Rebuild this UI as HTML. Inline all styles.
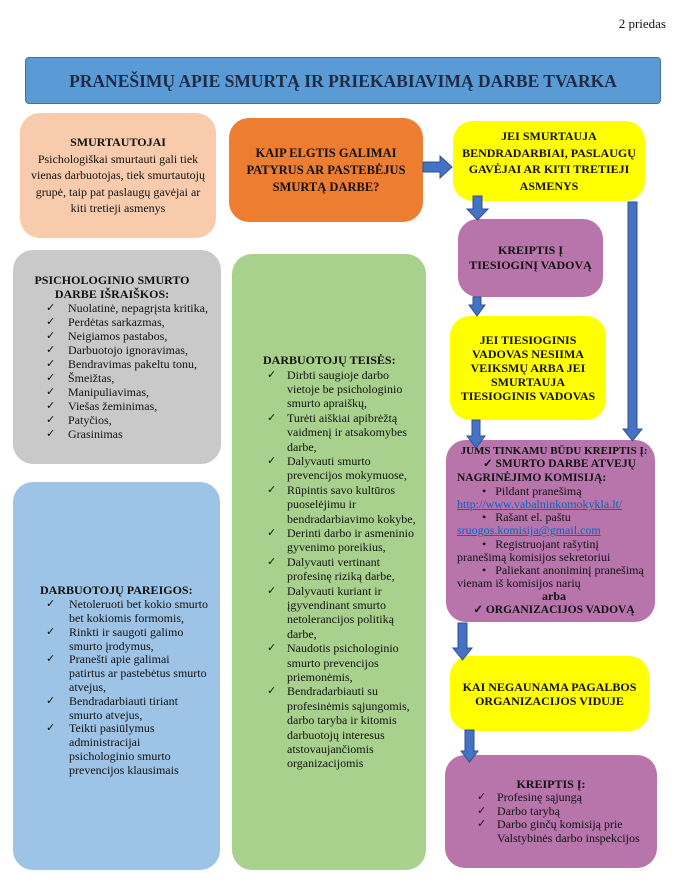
<!DOCTYPE html>
<html><head><meta charset="utf-8"><style>
body{margin:0;width:700px;height:892px;background:#fff;position:relative;font-family:"Liberation Serif",serif;color:#111;overflow:hidden}
.b{position:absolute;box-sizing:border-box;border-radius:20px;display:flex;flex-direction:column;justify-content:center;font-size:12px;line-height:14px}
.c{text-align:center;font-weight:bold}
ul{list-style:none;margin:0;padding:0}
li{position:relative;padding-left:var(--p,34px)}
li:before{content:"✓";position:absolute;left:var(--k,12px);font-size:11px}
svg{position:absolute;left:0;top:0}
a{color:#0563c1}
.nw div{white-space:nowrap}
</style></head><body>
<div style="position:absolute;right:34px;top:16px;font-size:13px">2 priedas</div>
<div class="b c" style="left:25px;top:57px;width:636px;height:47px;background:#5b9bd5;border:1.5px solid #41719c;border-radius:4px;font-size:17.5px;color:#1f2a44">PRANEŠIMŲ APIE SMURTĄ IR PRIEKABIAVIMĄ DARBE TVARKA</div>

<div class="b" style="left:20px;top:113px;width:196px;height:125px;background:#f8cbad;text-align:center;padding:0 10px;line-height:16.5px"><b>SMURTAUTOJAI</b>Psichologiškai smurtauti gali tiek vienas darbuotojas, tiek smurtautojų grupė, taip pat paslaugų gavėjai ar kiti tretieji asmenys</div>

<div class="b c" style="left:229px;top:118px;width:194px;height:104px;background:#ed7d31;font-size:12.5px;line-height:17px;padding:0 14px">KAIP ELGTIS GALIMAI PATYRUS AR PASTEBĖJUS SMURTĄ DARBE?</div>

<div class="b c" style="left:453px;top:121px;width:192px;height:80px;background:#ffff00;padding:0 6px;line-height:16.5px">JEI SMURTAUJA BENDRADARBIAI, PASLAUGŲ GAVĖJAI AR KITI TRETIEJI ASMENYS</div>

<div class="b c" style="left:458px;top:219px;width:145px;height:78px;background:#b775ab;line-height:15px">KREIPTIS Į<br>TIESIOGINĮ VADOVĄ</div>

<div class="b c" style="left:450px;top:316px;width:156px;height:104px;background:#ffff00;padding:0 8px;line-height:14px">JEI TIESIOGINIS VADOVAS NESIIMA VEIKSMŲ ARBA JEI SMURTAUJA TIESIOGINIS VADOVAS</div>

<div class="b nw" style="left:446px;top:440px;width:209px;height:182px;background:#b775ab;padding:0 4px 0 11px;font-size:12px;line-height:13.2px">
<div class="c" style="font-size:11px">JUMS TINKAMU BŪDU KREIPTIS Į:</div>
<div style="font-weight:bold;padding-left:26px;font-size:11.5px">✓ SMURTO DARBE ATVEJŲ</div>
<div style="font-weight:bold;font-size:11.5px">NAGRINĖJIMO KOMISIJĄ:</div>
<div style="padding-left:25px">•&nbsp;&nbsp; Pildant pranešimą</div>
<div><a href="#" style="text-decoration:underline">http://www.vabalninkomokykla.lt/</a></div>
<div style="padding-left:25px">•&nbsp;&nbsp; Rašant el. paštu</div>
<div><a href="#" style="text-decoration:underline">sruogos.komisija@gmail.com</a></div>
<div style="padding-left:25px">•&nbsp;&nbsp; Registruojant rašytinį</div>
<div>pranešimą komisijos sekretoriui</div>
<div style="padding-left:25px">•&nbsp;&nbsp; Paliekant anoniminį pranešimą</div>
<div>vienam iš komisijos narių</div>
<div class="c">arba</div>
<div class="c" style="font-size:11.5px">✓ ORGANIZACIJOS VADOVĄ</div>
</div>

<div class="b c" style="left:450px;top:656px;width:199px;height:75px;background:#ffff00">KAI NEGAUNAMA PAGALBOS<br>ORGANIZACIJOS VIDUJE</div>

<div class="b" style="left:445px;top:755px;width:212px;height:113px;background:#b775ab;padding-left:10px;line-height:13.5px">
<div class="c" style="padding-right:10px">KREIPTIS Į:</div>
<ul style="--p:42px;--k:22px"><li>Profesinę sąjungą</li><li>Darbo tarybą</li><li>Darbo ginčų komisiją prie</li></ul>
<div style="padding-left:42px;white-space:nowrap">Valstybinės darbo inspekcijos</div>
</div>

<div class="b" style="left:13px;top:250px;width:208px;height:214px;background:#c9c9c9">
<div class="c" style="padding-right:10px">PSICHOLOGINIO SMURTO<br>DARBE IŠRAIŠKOS:</div>
<ul style="--p:55px;--k:33px"><li>Nuolatinė, nepagrįsta kritika,</li><li>Perdėtas sarkazmas,</li><li>Neigiamos pastabos,</li><li>Darbuotojo ignoravimas,</li><li>Bendravimas pakeltu tonu,</li><li>Šmeižtas,</li><li>Manipuliavimas,</li><li>Viešas žeminimas,</li><li>Patyčios,</li><li>Grasinimas</li></ul>
</div>

<div class="b" style="left:232px;top:254px;width:194px;height:616px;background:#a9d18e;padding:0 8px 0 0;line-height:14.4px">
<div style="font-weight:bold;padding-left:31px">DARBUOTOJŲ TEISĖS:</div>
<ul style="--p:55px;--k:35px"><li>Dirbti saugioje darbo vietoje be psichologinio smurto apraiškų,</li><li>Turėti aiškiai apibrėžtą vaidmenį ir atsakomybes darbe,</li><li>Dalyvauti smurto prevencijos mokymuose,</li><li>Rūpintis savo kultūros puoselėjimu ir bendradarbiavimo kokybe,</li><li>Derinti darbo ir asmeninio gyvenimo poreikius,</li><li>Dalyvauti vertinant profesinę riziką darbe,</li><li>Dalyvauti kuriant ir įgyvendinant smurto netolerancijos politiką darbe,</li><li>Naudotis psichologinio smurto prevencijos priemonėmis,</li><li>Bendradarbiauti su profesinėmis sąjungomis, darbo taryba ir kitomis darbuotojų interesus atstovaujančiomis organizacijomis</li></ul>
</div>

<div class="b" style="left:13px;top:482px;width:207px;height:388px;background:#9dc3e6;padding:10px 12px 0 0;line-height:13.8px">
<div style="font-weight:bold;padding-left:27px">DARBUOTOJŲ PAREIGOS:</div>
<ul style="--p:56px;--k:33px"><li>Netoleruoti bet kokio smurto bet kokiomis formomis,</li><li>Rinkti ir saugoti galimo smurto įrodymus,</li><li>Pranešti apie galimai patirtus ar pastebėtus smurto atvejus,</li><li>Bendradarbiauti tiriant smurto atvejus,</li><li>Teikti pasiūlymus administracijai psichologinio smurto prevencijos klausimais</li></ul>
</div>

<svg width="700" height="892">
<g fill="#4472c4" stroke="#2f528f" stroke-width="1">
<polygon points="423,162 440,162 440,156 452,167 440,178 440,172 423,172"/>
<polygon points="473,196 482,196 482,209 488,209 477.5,220 467,209 473,209"/>
<polygon points="473,297 481,297 481,305 485,305 477,316 469,305 473,305"/>
<polygon points="472,420 480,420 480,436 485,436 476,448 467,436 472,436"/>
<polygon points="628,202 637,202 637,429 642,429 632.5,441 623,429 628,429"/>
<polygon points="458,623 467,623 467,648 472,648 462.5,660 453,648 458,648"/>
<polygon points="465,730 474,730 474,751 478,751 469.5,762 461,751 465,751"/>
</g>
</svg>
</body></html>
